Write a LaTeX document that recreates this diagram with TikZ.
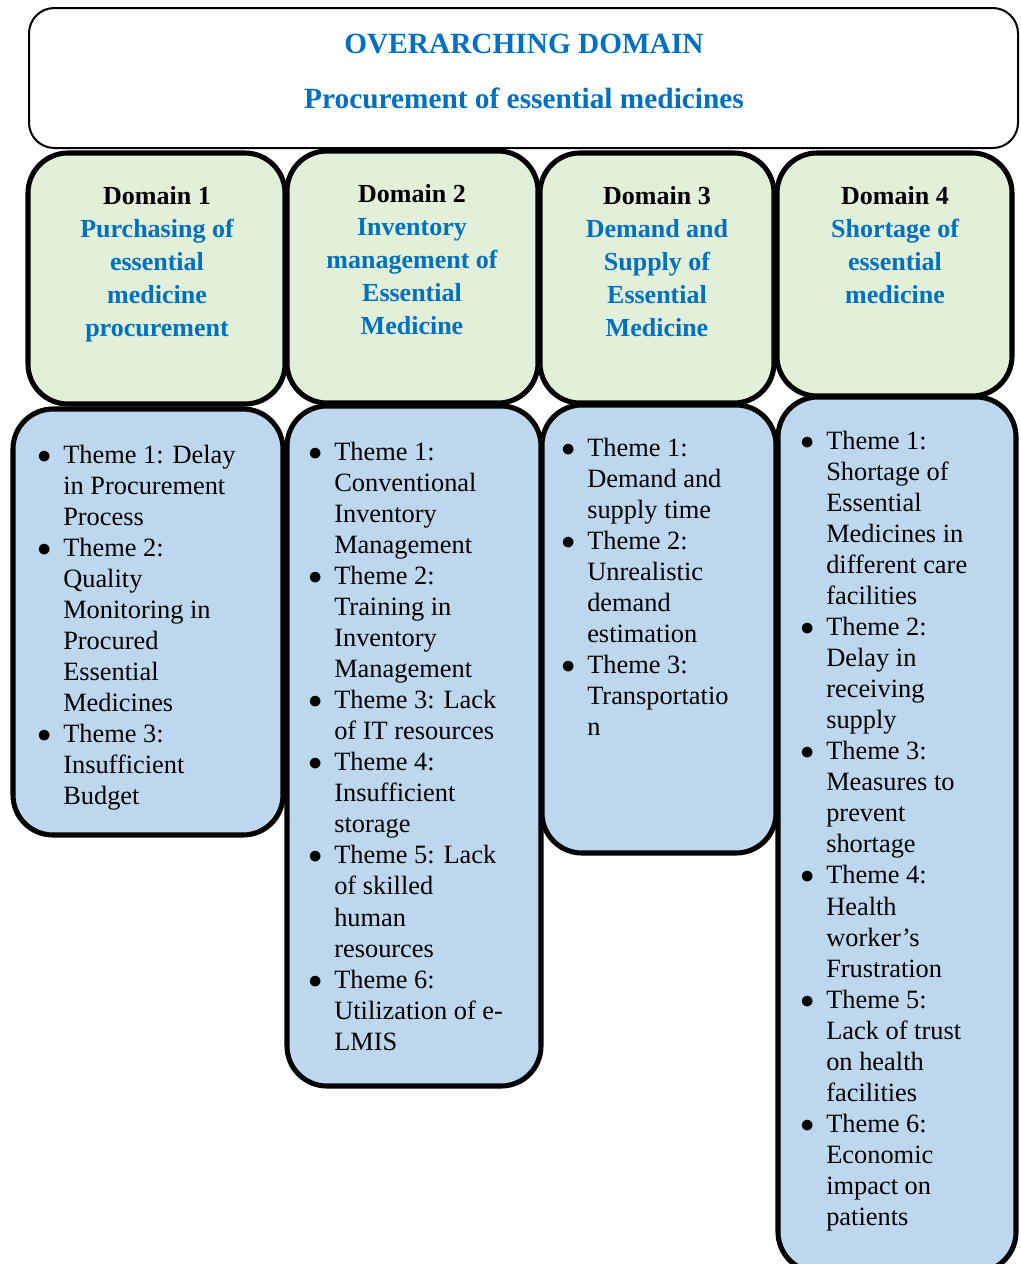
\documentclass[tikz,border=0pt]{standalone}
\usepackage{fontspec}
\setmainfont{Liberation Serif}
\usetikzlibrary{shadows}
\definecolor{tblue}{HTML}{0070C0}
\definecolor{dgreen}{HTML}{E2EFD9}
\definecolor{tboxc}{HTML}{BDD7EE}
\newcommand\bl{\makebox[19.5pt][l]{$\bullet$}}
\newcommand\thfont{\fontsize{19.8pt}{23.3pt}\selectfont}
\newcommand\dmfont{\fontsize{19.5pt}{24.75pt}\selectfont\bfseries}
\newcommand\bt[1]{\textcolor{tblue}{#1}}
\newcommand\bx[6]{\node[#2, inner sep=0pt, minimum width={(#5-#3)*0.75pt}, minimum height={(#6-#4)*0.75pt}] (#1) at ({(#3+#5)/2},{(#4+#6)/2}) {};}
\begin{document}
\begin{tikzpicture}[x=0.75pt,y=-0.75pt,
  topbox/.style={draw, line width=1.5pt, rounded corners=19pt, fill=white},
  dombox/.style={draw, line width=3.8pt, rounded corners=30pt, fill=dgreen,
    drop shadow={shadow xshift=1.5pt, shadow yshift=-1.5pt, opacity=0.3}},
  thmbox/.style={draw, line width=3.8pt, rounded corners=30pt, fill=tboxc,
    drop shadow={shadow xshift=1.5pt, shadow yshift=-1.5pt, opacity=0.3}},
  thtxt/.style={inner sep=0pt, anchor=base west},
  dmtxt/.style={inner sep=0pt, anchor=base},
]
\useasboundingbox (0,0) rectangle (1021,1264);
\fill[white] (0,0) rectangle (1021,1264);

% overarching box
\bx{top}{topbox}{29}{8}{1018}{148}
\node[dmtxt] (toptitle) at (524,53) {\fontsize{22pt}{26pt}\selectfont\bfseries\color{tblue}OVERARCHING DOMAIN};
\node[dmtxt] (topsub) at (524,108) {\fontsize{22pt}{26pt}\selectfont\bfseries\color{tblue}Procurement of essential medicines};

% domain boxes
\bx{d1}{dombox}{28}{153}{285}{404}
\bx{d2}{dombox}{287}{151}{538}{403}
\bx{d3}{dombox}{540}{153}{774}{403}
\bx{d4}{dombox}{777}{153}{1012}{396}

% theme boxes
\bx{t1}{thmbox}{13}{409}{283}{835}
\bx{t2}{thmbox}{287}{406}{541}{1086}
\bx{t3}{thmbox}{542}{405}{776}{853}
\bx{t4}{thmbox}{778}{397}{1016}{1272}

% domain texts
\node[dmtxt] (d1t) at (157,204) {\dmfont\begin{tabular}[t]{@{}c@{}}Domain 1\\ \bt{Purchasing of}\\ \bt{essential}\\ \bt{medicine}\\ \bt{procurement}\end{tabular}};
\node[dmtxt] (d2t) at (412,202) {\dmfont\begin{tabular}[t]{@{}c@{}}Domain 2\\ \bt{Inventory}\\ \bt{management of}\\ \bt{Essential}\\ \bt{Medicine}\end{tabular}};
\node[dmtxt] (d3t) at (657,204) {\dmfont\begin{tabular}[t]{@{}c@{}}Domain 3\\ \bt{Demand and}\\ \bt{Supply of}\\ \bt{Essential}\\ \bt{Medicine}\end{tabular}};
\node[dmtxt] (d4t) at (895,204) {\dmfont\begin{tabular}[t]{@{}c@{}}Domain 4\\ \bt{Shortage of}\\ \bt{essential}\\ \bt{medicine}\end{tabular}};

% theme texts
\node[thtxt] (t1t) at (37,463) {\thfont\begin{tabular}[t]{@{}l@{}l@{}}
\bl & Theme 1: Delay\\ & in Procurement\\ & Process\\
\bl & Theme 2:\\ & Quality\\ & Monitoring in\\ & Procured\\ & Essential\\ & Medicines\\
\bl & Theme 3:\\ & Insufficient\\ & Budget
\end{tabular}};

\node[thtxt] (t2t) at (308,460) {\thfont\begin{tabular}[t]{@{}l@{}l@{}}
\bl & Theme 1:\\ & Conventional\\ & Inventory\\ & Management\\
\bl & Theme 2:\\ & Training in\\ & Inventory\\ & Management\\
\bl & Theme 3: Lack\\ & of IT resources\\
\bl & Theme 4:\\ & Insufficient\\ & storage\\
\bl & Theme 5: Lack\\ & of skilled\\ & human\\ & resources\\
\bl & Theme 6:\\ & Utilization of e-\\ & LMIS
\end{tabular}};

\node[thtxt] (t3t) at (561,456) {\thfont\begin{tabular}[t]{@{}l@{}l@{}}
\bl & Theme 1:\\ & Demand and\\ & supply time\\
\bl & Theme 2:\\ & Unrealistic\\ & demand\\ & estimation\\
\bl & Theme 3:\\ & Transportatio\\ & n
\end{tabular}};

\node[thtxt] (t4t) at (800,449) {\thfont\begin{tabular}[t]{@{}l@{}l@{}}
\bl & Theme 1:\\ & Shortage of\\ & Essential\\ & Medicines in\\ & different care\\ & facilities\\
\bl & Theme 2:\\ & Delay in\\ & receiving\\ & supply\\
\bl & Theme 3:\\ & Measures to\\ & prevent\\ & shortage\\
\bl & Theme 4:\\ & Health\\ & worker’s\\ & Frustration\\
\bl & Theme 5:\\ & Lack of trust\\ & on health\\ & facilities\\
\bl & Theme 6:\\ & Economic\\ & impact on\\ & patients
\end{tabular}};
\end{tikzpicture}
\end{document}
